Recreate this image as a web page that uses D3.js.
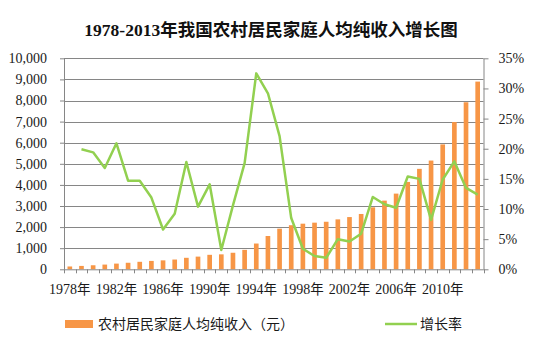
<!DOCTYPE html>
<html><head><meta charset="utf-8">
<script src="https://cdn.jsdelivr.net/npm/d3@7"></script>
<style>
html,body{margin:0;padding:0;background:#fff;}
svg{display:block;}
</style></head>
<body><svg id="c" width="539" height="341"></svg>
<script>
const years = d3.range(1978, 2014).map(String);
const income = [133.6,160.2,191.3,223.4,270.1,309.8,355.3,397.6,423.8,462.6,544.9,601.5,686.3,708.6,784.0,921.6,1221.0,1577.7,1926.1,2090.1,2162.0,2210.3,2253.4,2366.4,2475.6,2622.2,2936.4,3254.9,3587.0,4140.4,4760.6,5153.2,5919.0,6977.3,7916.6,8895.9];
const growthYears = d3.range(1979, 2014).map(String);
const growth = [19.9,19.4,16.8,20.9,14.7,14.7,11.9,6.6,9.2,17.8,10.4,14.1,3.2,10.6,17.6,32.5,29.2,22.1,8.5,3.4,2.2,1.9,5.0,4.6,5.9,12.0,10.8,10.2,15.4,15.0,8.2,14.9,17.9,13.5,12.4];
const leftTicks = d3.range(0, 10001, 1000);
const rightTicks = [0,5,10,15,20,25,30,35];
const xLabelYears = ["1978","1982","1986","1990","1994","1998","2002","2006","2010"];
const title = "1978-2013年我国农村居民家庭人均纯收入增长图";
const seriesNames = ["农村居民家庭人均纯收入（元）", "增长率"];

const svg = d3.select("#c");
const L = 64, R = 483.5, T = 58.3, B = 269.3;
const grey = "#868686";
const serif = "'Liberation Serif','Times New Roman',serif";
const cjk = "'Noto Sans CJK SC','Noto Sans',sans-serif";

const x = d3.scaleBand().domain(years).range([L, R]).paddingInner(0.6).paddingOuter(0.3);
const xb = d3.scaleBand().domain(years).range([L, R]);
const yL = d3.scaleLinear().domain([0, 10000]).range([B, T]);
const yR = d3.scaleLinear().domain([0, 35]).range([B, T]);

// title
svg.append("text").attr("x", 271).attr("y", 36).attr("text-anchor", "middle")
  .attr("font-size", 17.5).attr("font-weight", "bold").attr("fill", "#111")
  .html(`<tspan font-family="${serif}">1978-2013</tspan><tspan font-family="${cjk}">年我国农村居民家庭人均纯收入增长图</tspan>`);

// gridlines
svg.append("g").selectAll("line").data(leftTicks.filter(d => d > 0)).join("line")
  .attr("x1", L).attr("x2", R).attr("y1", d => Math.round(yL(d)) + 0.5).attr("y2", d => Math.round(yL(d)) + 0.5)
  .attr("stroke", grey).attr("stroke-width", 1);

// bars
svg.append("g").selectAll("rect").data(income).join("rect")
  .attr("x", (d, i) => x(years[i])).attr("width", x.bandwidth())
  .attr("y", d => yL(d)).attr("height", d => B - yL(d))
  .attr("fill", "#F79646");

// left axis
const axL = d3.axisLeft(yL).tickValues(leftTicks).tickFormat(d3.format(",")).tickSizeInner(4).tickSizeOuter(0).tickPadding(13);
const gL = svg.append("g").attr("transform", `translate(${L},0)`).call(axL);
gL.select(".domain").attr("stroke", grey);
gL.selectAll(".tick line").attr("stroke", grey).attr("x2", 0).attr("x1", -4);
gL.selectAll("text").attr("font-family", serif).attr("font-size", 14).attr("fill", "#1a1a1a");

// right axis
const axR = d3.axisRight(yR).tickValues(rightTicks).tickFormat(d => d + "%").tickSizeInner(5).tickSizeOuter(0).tickPadding(10);
const gR = svg.append("g").attr("transform", `translate(${R},0)`).call(axR);
gR.select(".domain").attr("stroke", grey);
gR.selectAll(".tick line").attr("stroke", grey);
gR.selectAll("text").attr("font-family", serif).attr("font-size", 14).attr("fill", "#1a1a1a");

// bottom axis
const gB = svg.append("g").attr("transform", `translate(0,${B})`);
gB.append("line").attr("x1", L).attr("x2", R).attr("y1", 0.5).attr("y2", 0.5).attr("stroke", grey);
gB.selectAll("line.tk").data(d3.range(0, years.length + 1)).join("line").attr("class", "tk")
  .attr("x1", i => Math.round(L + i * xb.bandwidth()) + 0.5).attr("x2", i => Math.round(L + i * xb.bandwidth()) + 0.5)
  .attr("y1", 0).attr("y2", 4).attr("stroke", grey);
gB.selectAll("text").data(xLabelYears).join("text")
  .attr("x", d => xb(d) + xb.bandwidth() / 2).attr("y", 25).attr("text-anchor", "middle")
  .attr("font-size", 14).attr("fill", "#1a1a1a")
  .html(d => `<tspan font-family="${serif}">${d}</tspan><tspan font-family="${cjk}" font-size="13.5">年</tspan>`);

// growth line
const line = d3.line().x((d, i) => xb(growthYears[i]) + xb.bandwidth() / 2).y(d => yR(d));
svg.append("path").datum(growth).attr("d", line).attr("fill", "none")
  .attr("stroke", "#92D050").attr("stroke-width", 2.5).attr("stroke-linejoin", "round");

// legend
svg.append("rect").attr("x", 65).attr("y", 320).attr("width", 28).attr("height", 8).attr("fill", "#F79646");
svg.append("text").attr("x", 98).attr("y", 329).attr("font-family", cjk).attr("font-size", 14).attr("fill", "#1a1a1a").text(seriesNames[0]);
svg.append("line").attr("x1", 385).attr("x2", 417).attr("y1", 324).attr("y2", 324).attr("stroke", "#92D050").attr("stroke-width", 2.5);
svg.append("text").attr("x", 420).attr("y", 329).attr("font-family", cjk).attr("font-size", 14).attr("fill", "#1a1a1a").text(seriesNames[1]);
</script></body></html>
